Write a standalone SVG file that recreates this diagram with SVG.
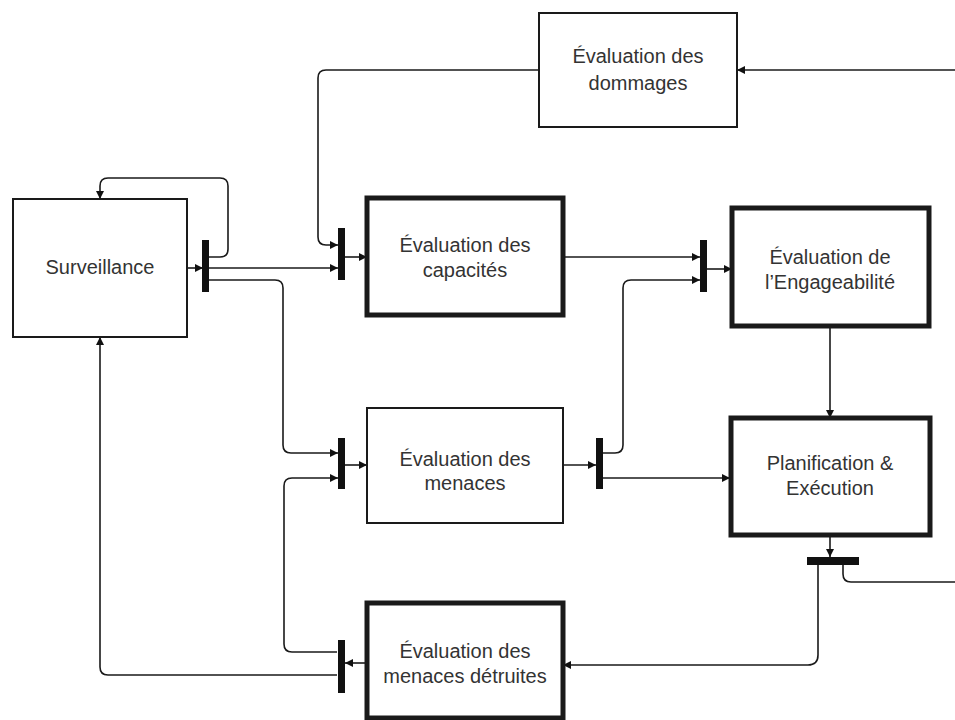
<svg xmlns="http://www.w3.org/2000/svg" width="955" height="720" viewBox="0 0 955 720">
  <defs>
    <marker id="arr" markerUnits="userSpaceOnUse" markerWidth="9" markerHeight="8" refX="8" refY="4" orient="auto">
      <path d="M0,0 L8,4 L0,8 z" fill="#111"/>
    </marker>
    <style>
      .box { fill: #fff; stroke: #1a1a1a; stroke-width: 2; }
      .box.thick { stroke-width: 5; }
      .bar { fill: #111; }
      .lbl { font-family: "Liberation Sans", Arial, sans-serif; font-size: 20px; fill: #333; text-anchor: middle; }
      .wire { fill: none; stroke: #1a1a1a; stroke-width: 1.6; }
      .wire.to { marker-end: url(#arr); }
    </style>
  </defs>
  <rect width="955" height="720" fill="#fff"/>

  <!-- connectors -->
  <g id="connectors">
    <!-- Surveillance self-loop -->
    <path class="wire to" d="M209,257 H220 Q228,257 228,249 V186 Q228,178 220,178 H108 Q100,178 100,186 V199"/>
    <path class="wire to" d="M187,268 H203"/>
    <path class="wire to" d="M209,268 H338"/>
    <path class="wire to" d="M539,70 H326 Q318,70 318,78 V237 Q318,245 326,245 H338"/>
    <path class="wire to" d="M345,257 H367"/>
    <path class="wire to" d="M209,280 H275 Q283,280 283,288 V445 Q283,453 291,453 H338"/>
    <path class="wire to" d="M345,465 H367"/>
    <path class="wire to" d="M337,652 H292 Q284,652 284,644 V486 Q284,478 292,478 H338"/>
    <path class="wire to" d="M367,663 H345"/>
    <path class="wire to" d="M337,675 H108 Q100,675 100,667 V337"/>
    <path class="wire to" d="M563,257 H700"/>
    <path class="wire to" d="M563,465 H596"/>
    <path class="wire to" d="M603,453 H615 Q623,453 623,445 V288 Q623,280 631,280 H700"/>
    <path class="wire to" d="M603,478 H730"/>
    <path class="wire to" d="M707,269 H732"/>
    <path class="wire to" d="M830,326 V418"/>
    <path class="wire to" d="M830,535 V557"/>
    <path class="wire to" d="M818,565 V655 Q818,665 808,665 H563"/>
    <path class="wire" d="M843,565 V574 Q843,582 851,582 H955"/>
    <path class="wire to" d="M955,70 H737"/>
    <!-- junction bars -->
    <rect class="bar" x="202" y="240" width="7" height="52"/>
    <rect class="bar" x="338" y="228" width="7" height="52"/>
    <rect class="bar" x="338" y="438" width="7" height="51"/>
    <rect class="bar" x="596" y="438" width="7" height="51"/>
    <rect class="bar" x="700" y="240" width="7" height="52"/>
    <rect class="bar" x="338" y="640" width="7" height="53"/>
    <rect class="bar" x="807" y="557" width="52" height="8"/>
  </g>

  <g id="surveillance">
    <rect class="box" x="13" y="199" width="174" height="138"/>
    <text class="lbl" x="100" y="274">Surveillance</text>
  </g>

  <g id="eval-dommages">
    <rect class="box" x="539" y="13" width="198" height="114"/>
    <text class="lbl" x="638" y="63">Évaluation des</text>
    <text class="lbl" x="638" y="90">dommages</text>
  </g>

  <g id="eval-capacites">
    <rect class="box thick" x="367" y="198" width="196" height="117"/>
    <text class="lbl" x="465" y="252">Évaluation des</text>
    <text class="lbl" x="465" y="277">capacités</text>
  </g>

  <g id="eval-engageabilite">
    <rect class="box thick" x="732" y="208" width="197" height="118"/>
    <text class="lbl" x="830" y="264">Évaluation de</text>
    <text class="lbl" x="830" y="289">l’Engageabilité</text>
  </g>

  <g id="eval-menaces">
    <rect class="box" x="367" y="408" width="196" height="115"/>
    <text class="lbl" x="465" y="466">Évaluation des</text>
    <text class="lbl" x="465" y="490">menaces</text>
  </g>

  <g id="planification">
    <rect class="box thick" x="731" y="418" width="199" height="117"/>
    <text class="lbl" x="830" y="470">Planification &amp;</text>
    <text class="lbl" x="830" y="495">Exécution</text>
  </g>

  <g id="eval-menaces-detruites">
    <rect class="box thick" x="367" y="603" width="196" height="115"/>
    <text class="lbl" x="465" y="658">Évaluation des</text>
    <text class="lbl" x="465" y="683">menaces détruites</text>
  </g>
</svg>
